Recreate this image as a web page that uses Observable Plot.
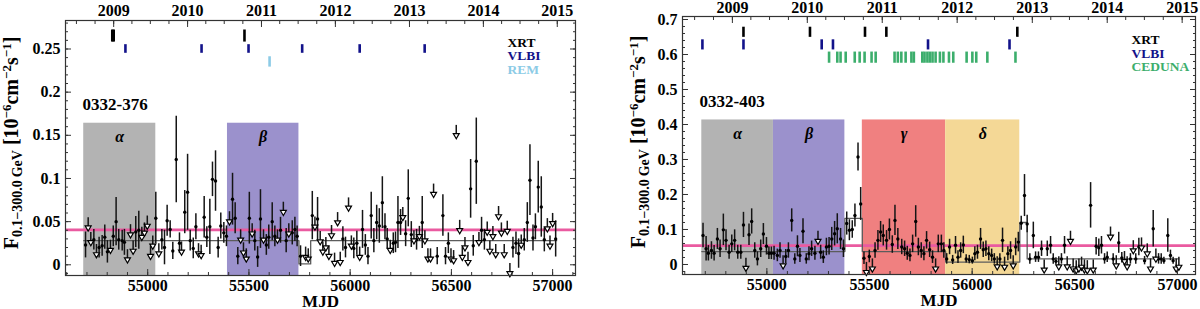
<!DOCTYPE html>
<html><head><meta charset="utf-8">
<script src="https://cdn.jsdelivr.net/npm/d3@7"></script>
<script src="https://cdn.jsdelivr.net/npm/@observablehq/plot@0.6"></script>
<style>
body{margin:0;background:#fff;}
#wrap{display:flex;width:1200px;height:309px;overflow:hidden;}
.panel{width:600px;height:309px;}
</style></head><body>
<div id="wrap"><div class="panel" id="p1"></div><div class="panel" id="p2"></div></div>
<script>
// ---------- shared ----------
const years = [2009, 2010, 2011, 2012, 2013, 2014, 2015];
const xTicks = [55000, 55500, 56000, 56500, 57000];

// ---------- panel 1 : 0332-376 ----------
const name1 = "0332-376";
const yTicks1 = [0, 0.05, 0.1, 0.15, 0.2, 0.25];
const detMjd1 = [54693,54734,54760,54775,54788,54801,54830,54844,54857,54874,54885,54941,54956,55040,55070,55083,55096,55111,55124,55141,55157,55183,55197,55210,55225,55238,55279,55292,55307,55320,55335,55348,55361,55376,55389,55419,55432,55445,55502,55529,55543,55557,55586,55598,55615,55628,55656,55684,55714,55727,55738,55755,55813,55839,55964,55977,56018,56033,56061,56075,56088,56104,56117,56131,56144,56159,56172,56183,56213,56224,56236,56249,56274,56287,56302,56328,56356,56430,56458,56471,56485,56595,56608,56623,56649,56663,56804,56819,56832,56860,56875,56888,56903,56915,56929,56944,56959,57015];
const detFlux1 = [0.023,0.029,0.020,0.022,0.032,0.015,0.033,0.050,0.029,0.028,0.026,0.038,0.040,0.054,0.029,0.020,0.051,0.041,0.016,0.122,0.025,0.061,0.084,0.028,0.019,0.044,0.055,0.032,0.044,0.099,0.097,0.020,0.045,0.037,0.033,0.076,0.054,0.010,0.054,0.028,0.009,0.053,0.023,0.032,0.050,0.033,0.040,0.028,0.037,0.041,0.033,0.010,0.057,0.053,0.030,0.020,0.019,0.025,0.041,0.023,0.010,0.057,0.028,0.049,0.045,0.072,0.044,0.030,0.025,0.026,0.049,0.049,0.036,0.077,0.035,0.029,0.049,0.010,0.057,0.010,0.025,0.088,0.022,0.120,0.040,0.029,0.020,0.025,0.013,0.029,0.049,0.098,0.031,0.044,0.090,0.067,0.029,0.030];
const detErr1 = [0.015,0.012,0.012,0.012,0.014,0.013,0.012,0.028,0.012,0.012,0.015,0.018,0.022,0.030,0.012,0.020,0.018,0.010,0.010,0.050,0.012,0.025,0.044,0.012,0.012,0.015,0.024,0.012,0.032,0.020,0.035,0.012,0.015,0.012,0.012,0.030,0.018,0.010,0.030,0.012,0.012,0.034,0.012,0.014,0.022,0.012,0.015,0.014,0.014,0.014,0.012,0.012,0.028,0.025,0.014,0.012,0.012,0.014,0.022,0.012,0.010,0.027,0.014,0.020,0.020,0.030,0.015,0.012,0.012,0.012,0.030,0.015,0.015,0.033,0.015,0.012,0.030,0.010,0.024,0.010,0.012,0.034,0.012,0.050,0.015,0.012,0.012,0.013,0.017,0.013,0.023,0.041,0.015,0.015,0.030,0.035,0.014,0.021];
const ulMjd1 = [54706,54719,54747,54816,54900,54915,54928,54971,54984,54998,55014,55025,55055,55167,55251,55264,55404,55459,55473,55487,55516,55572,55641,55670,55697,55780,55793,55826,55852,55865,55880,55895,55908,55923,55938,55951,55992,56006,56047,56198,56260,56315,56342,56369,56384,56397,56412,56498,56511,56524,56541,56554,56567,56582,56636,56677,56690,56705,56719,56733,56747,56761,56776,56789,56845,56974,56987,57000];
const ulFlux1 = [0.043,0.026,0.012,0.017,0.006,0.035,0.016,0.032,0.037,0.045,0.010,0.022,0.013,0.015,0.013,0.011,0.050,0.029,0.014,0.007,0.036,0.029,0.029,0.061,0.036,0.009,0.007,0.044,0.027,0.015,0.020,0.010,0.034,0.002,0.049,0.003,0.066,0.022,0.009,0.017,0.055,0.028,0.033,0.028,0.007,0.007,0.082,0.007,0.005,0.150,0.040,0.009,0.020,0.003,0.026,0.038,0.016,0.033,0.012,0.056,0.037,0.012,0.039,-0.010,0.023,0.042,0.022,0.048];
const bbEdges1 = [54684, 55747, 55805, 57020];
const bbLevels1 = [0.028, 0.001, 0.028];
const avg1 = 0.0404;
const periods1 = ["α", "β"];
const periodStart1 = [54684, 55394];
const periodEnd1 = [55040, 55747];
const periodTop1 = 0.164;
const xrt1 = [54825, 54832, 55478];
const vlbi1 = [54890, 55266, 55498, 55763, 56047, 56368];
const rem1 = [55602];
const legend1 = ["XRT", "VLBI", "REM"];

// ---------- panel 2 : 0332-403 ----------
const name2 = "0332-403";
const yTicks2 = [0, 0.1, 0.2, 0.3, 0.4, 0.5, 0.6, 0.7];
const detMjd2 = [54689,54704,54715,54730,54743,54759,54772,54788,54801,54816,54829,54843,54858,54873,54886,54913,54926,54941,54954,54970,54983,54998,55010,55022,55035,55051,55064,55092,55105,55121,55136,55149,55161,55176,55192,55205,55218,55234,55262,55275,55290,55303,55316,55330,55343,55359,55373,55389,55402,55416,55429,55444,55457,55473,55499,55527,55541,55554,55567,55583,55597,55611,55624,55638,55657,55671,55684,55697,55710,55725,55738,55752,55765,55778,55793,55807,55835,55850,55862,55876,55890,55905,55919,55931,55944,55957,55971,55986,56001,56013,56026,56041,56054,56067,56081,56095,56108,56135,56148,56174,56187,56212,56225,56239,56255,56268,56281,56298,56309,56323,56338,56366,56382,56395,56408,56435,56450,56577,56604,56617,56630,56645,56658,56687,56714,56729,56771,56797,56812,56840,56882,56908,56921,56934,56953,56966,56979];
const detFlux2 = [0.083,0.045,0.032,0.040,0.032,0.073,0.045,0.099,0.069,0.035,0.059,0.069,0.035,0.035,0.113,0.085,0.123,0.040,0.016,0.045,0.087,0.052,0.032,0.032,0.032,0.026,0.040,0.023,0.040,0.126,0.016,0.052,0.026,0.095,0.016,0.031,0.045,0.032,0.035,0.021,0.050,0.052,0.073,0.088,0.102,0.073,0.045,0.117,0.098,0.100,0.140,0.307,0.173,0.018,0.023,0.040,0.069,0.093,0.083,0.069,0.100,0.057,0.126,0.073,0.050,0.045,0.032,0.026,0.059,0.123,0.050,0.040,0.031,0.069,0.042,0.021,0.059,0.059,0.040,0.016,0.050,0.013,0.055,0.021,0.040,0.056,0.016,0.014,0.011,0.031,0.035,0.073,0.042,0.045,0.031,0.026,0.016,0.016,0.069,0.031,0.040,0.050,0.064,0.118,0.197,0.116,0.016,0.083,0.021,0.021,0.045,0.045,0.055,0.016,0.009,0.016,0.055,0.169,0.052,0.048,0.055,0.016,0.021,0.016,0.062,0.019,0.016,0.016,0.050,0.011,0.102,0.016,0.016,0.011,0.083,0.026,0.011];
const detErr2 = [0.035,0.035,0.022,0.025,0.022,0.030,0.025,0.045,0.030,0.020,0.025,0.030,0.020,0.020,0.036,0.031,0.036,0.022,0.020,0.025,0.030,0.025,0.018,0.018,0.020,0.018,0.022,0.020,0.022,0.033,0.015,0.030,0.020,0.036,0.015,0.020,0.022,0.020,0.020,0.018,0.025,0.025,0.033,0.035,0.043,0.030,0.025,0.033,0.030,0.025,0.033,0.040,0.047,0.018,0.018,0.022,0.028,0.030,0.030,0.028,0.030,0.025,0.043,0.030,0.022,0.022,0.020,0.018,0.025,0.045,0.025,0.022,0.020,0.025,0.022,0.018,0.025,0.025,0.022,0.015,0.022,0.013,0.025,0.018,0.022,0.025,0.012,0.012,0.010,0.020,0.020,0.030,0.022,0.022,0.020,0.018,0.015,0.015,0.035,0.020,0.025,0.025,0.028,0.020,0.060,0.025,0.015,0.038,0.015,0.015,0.022,0.022,0.025,0.015,0.010,0.015,0.025,0.065,0.025,0.025,0.025,0.015,0.015,0.015,0.030,0.015,0.015,0.015,0.025,0.012,0.052,0.015,0.015,0.010,0.048,0.015,0.010];
const ulMjd2 = [54898,55079,55249,55485,55514,55822,56122,56158,56200,56351,56422,56463,56479,56492,56507,56520,56533,56547,56561,56590,56674,56702,56742,56755,56785,56825,56853,56869,56895,56994,57007];
const ulFlux2 = [-0.010,-0.003,0.067,-0.022,-0.012,-0.012,-0.006,-0.007,-0.003,-0.015,-0.006,-0.006,0.067,-0.012,-0.017,-0.012,-0.007,-0.015,-0.017,-0.015,0.079,-0.003,0.009,-0.006,0.040,0.048,0.031,-0.012,0.016,-0.012,-0.007];
const bbEdges2 = [54683, 55380, 55465, 55871, 56232, 56268, 57007];
const bbLevels2 = [0.037, 0.132, 0.037, 0.007, 0.120, 0.016];
const avg2 = 0.054;
const periods2 = ["α", "β", "γ", "δ"];
const periodStart2 = [54683, 55032, 55465, 55871];
const periodEnd2 = [55032, 55380, 55871, 56232];
const periodTop2 = 0.413;
const xrt2 = [54886, 55210, 55478, 55582, 56220];
const vlbi2 = [54686, 54886, 55267, 55322, 55785, 56182];
const ceduna2 = [55303,55343,55359,55384,55428,55452,55476,55510,55530,55622,55638,55655,55676,55704,55716,55757,55768,55782,55794,55807,55822,55843,55860,55887,55908,55973,56001,56020,56074,56211];
const legend2 = ["XRT", "VLBI", "CEDUNA"];

// ---------- drawing ----------
const periodColors = ["#b3b3b3", "#9b91cc", "#f08080", "#f4d896"];
const FONT = "'Liberation Serif', 'Times New Roman', serif";
const mjd = (y, m) => (Date.UTC(y, m, 1) - Date.UTC(1858, 10, 17)) / 864e5;

function drawPanel(el, c) {
  const [x0, x1] = c.xDomain, [y0, y1] = c.yDomain;
  const det = c.detMjd.map((m, i) => ({m, f: c.detFlux[i], e: c.detErr[i]}));
  const ul = c.ulMjd.map((m, i) => ({m, f: c.ulFlux[i]}));
  const boxes = c.periods.map((p, i) => ({p, s: c.starts[i], e: c.ends[i], col: periodColors[i]}));
  const bb = c.bbEdges.map((m, i) => ({m, f: c.bbLevels[Math.min(i, c.bbLevels.length - 1)]}));
  const yMinor = d3.range(Math.ceil(y0 / c.minorStep), Math.floor(y1 / c.minorStep) + 1).map(k => +(k * c.minorStep).toFixed(4));
  const xMinor = d3.range(Math.ceil(x0 / 100), Math.floor(x1 / 100) + 1).map(k => k * 100);
  const yearMjd = years.map(y => mjd(y, 0));
  const yearLab = new Map(yearMjd.map((d, i) => [d, String(years[i])]));
  const quarters = [];
  for (let y = 2008; y <= 2015; y++) for (const m of [0, 3, 6, 9]) { const d = mjd(y, m); if (d > x0 && d < x1) quarters.push(d); }

  const rowMarks = c.rows.map(r => Plot.ruleX(r.data, {x: d => d, y1: r.y[0], y2: r.y[1], stroke: r.color, strokeWidth: 2.6}));
  const legendMarks = c.rows.map((r, i) => Plot.text([r.name], {frameAnchor: "top-right", textAnchor: "start", dx: c.legendDx, dy: c.legendDy + i * 13.6, fill: r.color, fontSize: 13.5}));

  const svg = Plot.plot({
    width: 600, height: 309,
    marginTop: c.mt, marginBottom: c.mb, marginLeft: c.ml, marginRight: c.mr,
    x: {domain: c.xDomain},
    y: {domain: c.yDomain},
    color: {type: "identity"},
    style: {fontFamily: FONT, fontSize: "16px", fontWeight: "bold", color: "black", background: "white", overflow: "visible"},
    marks: [
      Plot.rect(boxes, {x1: "s", x2: "e", y1: y0, y2: c.boxTop, fill: "col"}),
      Plot.text(boxes, {x: d => (d.s + d.e) / 2, y: c.boxTop, dy: 14, text: "p", fontStyle: "italic", fontSize: 16}),
      Plot.ruleY([c.avg], {stroke: "#ea5aa0", strokeWidth: 2.6}),
      Plot.line(bb, {x: "m", y: "f", curve: "step-after", stroke: "#5c5c5c", strokeWidth: 1.3}),
      Plot.ruleX(det, {x: "m", y1: d => d.f - d.e, y2: d => d.f + d.e, stroke: "#151515", strokeWidth: 1.5}),
      Plot.dot(det, {x: "m", y: "f", r: 1.7, fill: "black"}),
      Plot.ruleX(ul, {x: "m", y1: "f", y2: d => d.f + c.arrowLen, stroke: "#151515", strokeWidth: 1.5}),
      Plot.dot(ul, {x: "m", y: "f", symbol: "triangle", rotate: 180, r: 2.2, fill: "white", stroke: "black", strokeWidth: 1.2}),
      ...rowMarks,
      ...legendMarks,
      Plot.text([c.name], {frameAnchor: "top-left", textAnchor: "start", dx: 17, dy: c.nameDy, fontSize: 17}),
      Plot.text(["MJD"], {frameAnchor: "bottom", dy: 31, fontSize: 17}),
      Plot.axisY({anchor: "left", ticks: c.yTicks, tickSize: 0, tickPadding: 5, tickFormat: d => String(d), label: null}),
      Plot.axisY({anchor: "left", ticks: c.yTicks, tickSize: -6, fill: "none", label: null, stroke: "#333"}),
      Plot.axisY({anchor: "left", ticks: yMinor, tickSize: -3, fill: "none", label: null, stroke: "#333"}),
      Plot.axisY({anchor: "right", ticks: c.yTicks, tickSize: -6, fill: "none", label: null, stroke: "#333"}),
      Plot.axisY({anchor: "right", ticks: yMinor, tickSize: -3, fill: "none", label: null, stroke: "#333"}),
      Plot.axisX({anchor: "bottom", ticks: xTicks, tickSize: 0, tickPadding: 4, tickFormat: d => String(d), label: null}),
      Plot.axisX({anchor: "bottom", ticks: xTicks, tickSize: -6, fill: "none", label: null, stroke: "#333"}),
      Plot.axisX({anchor: "bottom", ticks: xMinor, tickSize: -3, fill: "none", label: null, stroke: "#333"}),
      Plot.axisX({anchor: "top", ticks: yearMjd, tickSize: 0, tickPadding: c.topPad, tickFormat: d => yearLab.get(d), label: null}),
      Plot.axisX({anchor: "top", ticks: yearMjd, tickSize: -6, fill: "none", label: null, stroke: "#333"}),
      Plot.axisX({anchor: "top", ticks: quarters, tickSize: -3, fill: "none", label: null, stroke: "#333"}),
      Plot.frame({stroke: "#333", strokeWidth: 1.2})
    ]
  });

  // y-axis title with sub/superscripts
  const t = d3.select(svg).append("text")
    .attr("transform", `translate(${c.labelX},${c.labelY}) rotate(-90)`)
    .attr("text-anchor", "middle")
    .attr("fill", "black")
    .style("font-family", FONT).style("font-weight", "bold").style("font-size", "20px");
  t.append("tspan").text("F");
  t.append("tspan").attr("dy", 4).style("font-size", "14px").text("0.1\u2212300.0\u2009GeV");
  t.append("tspan").attr("dy", -4).text(" [10");
  t.append("tspan").attr("dy", -7).style("font-size", "13px").text("\u22126");
  t.append("tspan").attr("dy", 7).text("cm");
  t.append("tspan").attr("dy", -7).style("font-size", "13px").text("\u22122");
  t.append("tspan").attr("dy", 7).text("s");
  t.append("tspan").attr("dy", -7).style("font-size", "13px").text("\u22121");
  t.append("tspan").attr("dy", 7).text("]");

  el.appendChild(svg);
}

drawPanel(document.getElementById("p1"), {
  name: name1, nameDy: 77,
  xDomain: [54594, 57113], yDomain: [-0.0124, 0.283],
  mt: 20, mb: 34, ml: 65, mr: 25, topPad: 5,
  yTicks: yTicks1, minorStep: 0.01,
  detMjd: detMjd1, detFlux: detFlux1, detErr: detErr1,
  ulMjd: ulMjd1, ulFlux: ulFlux1, arrowLen: 0.0115,
  bbEdges: bbEdges1, bbLevels: bbLevels1, avg: avg1,
  periods: periods1, starts: periodStart1, ends: periodEnd1, boxTop: periodTop1,
  rows: [
    {name: legend1[0], data: xrt1, y: [0.258, 0.272], color: "#000000"},
    {name: legend1[1], data: vlbi1, y: [0.245, 0.255], color: "#12128a"},
    {name: legend1[2], data: rem1, y: [0.229, 0.241], color: "#8ccbe6"}
  ],
  legendDx: -68, legendDy: 16.5,
  labelX: 18, labelY: 143
});

drawPanel(document.getElementById("p2"), {
  name: name2, nameDy: 78,
  xDomain: [54589, 57088], yDomain: [-0.0286, 0.7086],
  mt: 16, mb: 35, ml: 82, mr: 5, topPad: 4,
  yTicks: yTicks2, minorStep: 0.02,
  detMjd: detMjd2, detFlux: detFlux2, detErr: detErr2,
  ulMjd: ulMjd2, ulFlux: ulFlux2, arrowLen: 0.028,
  bbEdges: bbEdges2, bbLevels: bbLevels2, avg: avg2,
  periods: periods2, starts: periodStart2, ends: periodEnd2, boxTop: periodTop2,
  rows: [
    {name: legend2[0], data: xrt2, y: [0.649, 0.678], color: "#000000"},
    {name: legend2[1], data: vlbi2, y: [0.613, 0.642], color: "#12128a"},
    {name: legend2[2], data: ceduna2, y: [0.575, 0.607], color: "#3cae6c"}
  ],
  legendDx: -64, legendDy: 18,
  labelX: 45, labelY: 142
});
</script>
</body></html>
